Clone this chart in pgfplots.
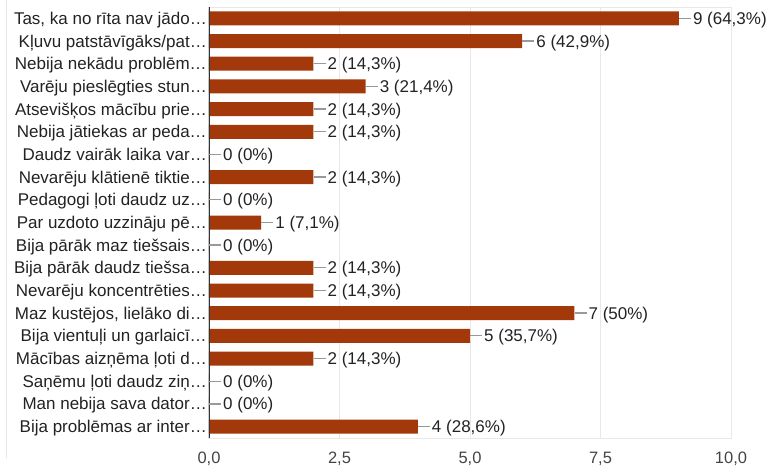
\documentclass[border=0pt]{standalone}
\usepackage{pgfplots}
\pgfplotsset{compat=1.18}
\usepackage{pgfplotstable}
\usepackage{fontspec}
\setmainfont{Liberation Sans}
\definecolor{barc}{RGB}{163,57,10}
\definecolor{gridc}{RGB}{232,232,232}
\definecolor{axisc}{RGB}{51,51,51}
\definecolor{leadc}{RGB}{153,153,153}
\definecolor{txtc}{RGB}{34,34,34}
\definecolor{tickc}{RGB}{68,68,68}

\pgfplotstableread{
y x lab
0 9 {9 (64,3\%)}
1 6 {6 (42,9\%)}
2 2 {2 (14,3\%)}
3 3 {3 (21,4\%)}
4 2 {2 (14,3\%)}
5 2 {2 (14,3\%)}
6 0 {0 (0\%)}
7 2 {2 (14,3\%)}
8 0 {0 (0\%)}
9 1 {1 (7,1\%)}
10 0 {0 (0\%)}
11 2 {2 (14,3\%)}
12 2 {2 (14,3\%)}
13 7 {7 (50\%)}
14 5 {5 (35,7\%)}
15 2 {2 (14,3\%)}
16 0 {0 (0\%)}
17 0 {0 (0\%)}
18 4 {4 (28,6\%)}
}\data

\begin{document}
\begin{tikzpicture}
\useasboundingbox (-209pt,-28pt) rectangle (562pt,438pt);
\draw[gridc, line width=1pt] (-202pt,-20pt) -- (-202pt,438pt);
\begin{axis}[
  at={(0,0)}, anchor=south west,
  scale only axis, width=522pt, height=431pt,
  xbar, bar width=14pt,
  xmin=0, xmax=10, ymin=-0.5, ymax=18.5, y dir=reverse,
  xtick={0,2.5,5,7.5,10},
  ytick={0,...,18},
  yticklabels={
    {Tas, ka no rīta nav jādo…},
    {Kļuvu patstāvīgāks/pat…},
    {Nebija nekādu problēm…},
    {Varēju pieslēgties stun…},
    {Atsevišķos mācību prie…},
    {Nebija jātiekas ar peda…},
    {Daudz vairāk laika var…},
    {Nevarēju klātienē tiktie…},
    {Pedagogi ļoti daudz uz…},
    {Par uzdoto uzzināju pē…},
    {Bija pārāk maz tiešsais…},
    {Bija pārāk daudz tiešsa…},
    {Nevarēju koncentrēties…},
    {Maz kustējos, lielāko di…},
    {Bija vientuļi un garlaicī…},
    {Mācības aizņēma ļoti d…},
    {Saņēmu ļoti daudz ziņ…},
    {Man nebija sava dator…},
    {Bija problēmas ar inter…}
  },
  xmajorgrids, grid style={draw=gridc, line width=1pt},
  axis line style={draw=gridc, line width=1pt},
  major tick length=0pt,
  tick style={draw=none},
  /pgf/number format/.cd, use comma, fixed, fixed zerofill, precision=1, assume math mode=true,
  /pgfplots/.cd,
  xticklabel style={font=\fontsize{16.5}{19}\selectfont, text=tickc, anchor=base, inner sep=0pt, yshift=-25.5pt},
  yticklabel style={font=\fontsize{17}{20}\selectfont, text=txtc, anchor=base east, inner sep=0pt, xshift=-2pt, yshift=-6pt},
  point meta=explicit symbolic,
  nodes near coords={\textcolor{leadc}{\rule[5.45pt]{12pt}{1.3pt}}\hspace{2pt}\pgfplotspointmeta},
  every node near coord/.append style={anchor=base west, inner sep=0pt, yshift=-6pt, font=\fontsize{17}{20}\selectfont, text=txtc},
]
\addplot[fill=barc, draw=none] table[x=x, y=y, meta=lab] {\data};
\draw[axisc, line width=1.6pt] (axis cs:0,-0.5) -- (axis cs:0,18.5);
\end{axis}
\end{tikzpicture}
\end{document}
